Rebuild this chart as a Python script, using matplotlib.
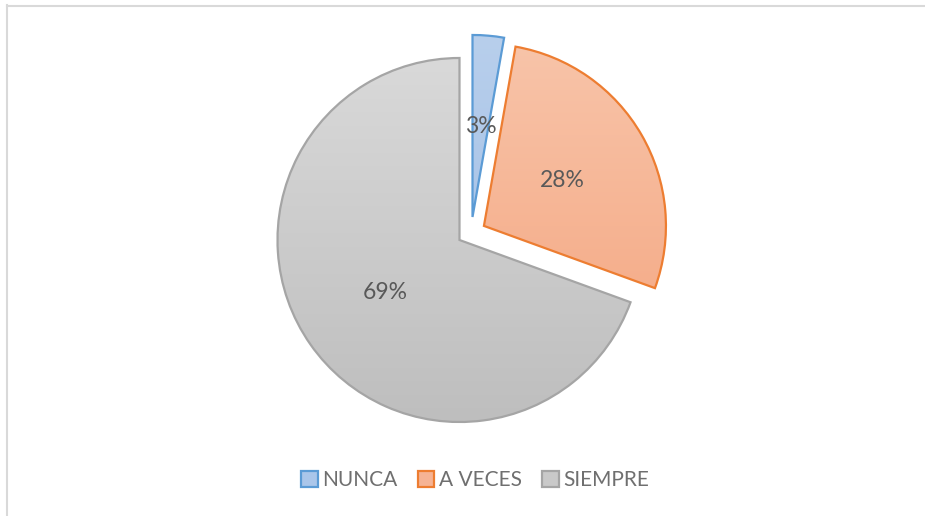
import numpy as np
import matplotlib
matplotlib.use("Agg")
from matplotlib import pyplot as plt
from matplotlib.patches import Patch
from matplotlib.lines import Line2D
from matplotlib.colors import LinearSegmentedColormap

plt.rcParams["font.family"] = ["Lato", "DejaVu Sans"]

# data
labels = ["NUNCA", "A VECES", "SIEMPRE"]
counts = [1, 10, 25]

# styles
top_colors = ["#b8cfec", "#f8c4a9", "#d9d9d9"]
bottom_colors = ["#9dbbe4", "#f4a47e", "#bebebe"]
edge_colors = ["#5b9bd5", "#ed7d31", "#a5a5a5"]
legend_faces = ["#aac6ea", "#f6b394", "#c9c9c9"]
explode = [0.145, 0.155, 0.0]
text_color = "#595959"

W, H = 925, 516
R = 182.0  # pie radius in px
cx, cy = 459.5, H - 240.0

fig = plt.figure(figsize=(W / 100, H / 100), dpi=100)
ax = fig.add_axes([0, 0, 1, 1])

wedges, texts, autotexts = ax.pie(
    counts,
    explode=explode,
    startangle=90,
    counterclock=False,
    autopct=lambda p: f"{p:.0f}%",
    pctdistance=0.5,
    wedgeprops={"linewidth": 1.6},
    textprops={"fontsize": 16.5, "color": text_color},
)

# Excel puts the thin slice a bit further right than the mid-angle
dx, dy = 13 / R, 23 / R
old = np.array(wedges[0].center)
wedges[0].set_center((dx, dy))
x0, y0 = autotexts[0].get_position()
autotexts[0].set_position((x0 + dx - old[0], y0 + dy - old[1]))

# gradient fills clipped to each wedge
grad = np.linspace(0, 1, 256).reshape(-1, 1)
for w, ct, cb, ec in zip(wedges, top_colors, bottom_colors, edge_colors):
    w.set_facecolor("none")
    w.set_edgecolor(ec)
    w.set_zorder(3)
    cxw, cyw = w.center
    cmap = LinearSegmentedColormap.from_list("g", [ct, cb])
    im = ax.imshow(grad, cmap=cmap, aspect="auto", origin="upper",
                   extent=(cxw - 1, cxw + 1, cyw - 1, cyw + 1), zorder=2)
    im.set_clip_path(w)

for t in autotexts:
    t.set_zorder(5)

ax.set_aspect("auto")
ax.set_xlim(-cx / R, (W - cx) / R)
ax.set_ylim(-cy / R, (H - cy) / R)
ax.axis("off")

# legend
handles = [Patch(facecolor=f, edgecolor=e, linewidth=1.6)
           for f, e in zip(legend_faces, edge_colors)]
fig.legend(handles, labels, loc="center", bbox_to_anchor=(475 / W, 1 - 480 / H),
           ncol=3, frameon=False, fontsize=15, labelcolor="#6f6f6f",
           handlelength=0.8, handleheight=0.8, handletextpad=0.2,
           columnspacing=1.0)

# chart border
kw = {"color": "#d9d9d9", "lw": 1.5}
fig.add_artist(Line2D([6.5 / W, 6.5 / W], [0, 1 - 5 / H], **kw))
fig.add_artist(Line2D([6.5 / W, 1], [1 - 5.5 / H, 1 - 5.5 / H], **kw))

fig.savefig("out.png", dpi=100)
